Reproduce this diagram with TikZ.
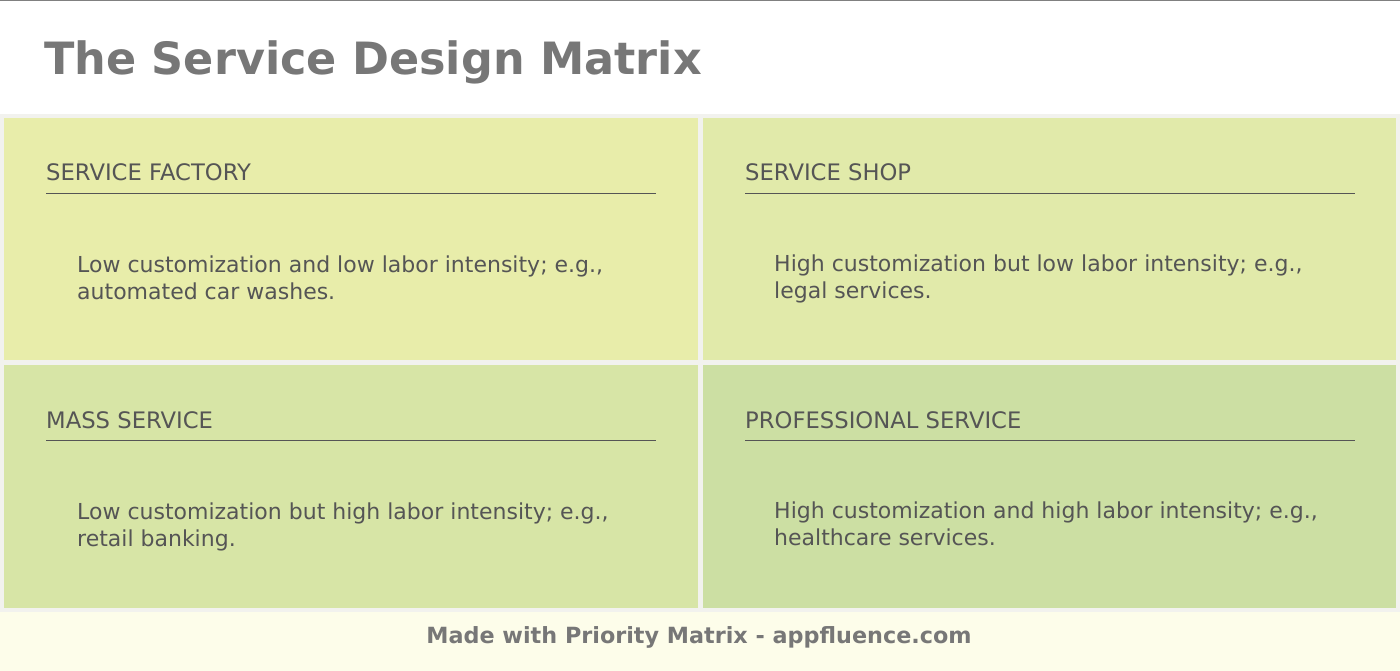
\documentclass[tikz,border=0pt]{standalone}
\usepackage{fontspec}
\setmainfont{DejaVu Sans}
\definecolor{tl}{HTML}{E8EDAA}
\definecolor{tr}{HTML}{E1EAAA}
\definecolor{bl}{HTML}{D7E5A6}
\definecolor{br}{HTML}{CCDFA3}
\definecolor{txt}{HTML}{555555}
\definecolor{ttl}{HTML}{777777}
\definecolor{foot}{HTML}{FDFDEA}
\definecolor{gap}{HTML}{F2F2EE}
\begin{document}
\begin{tikzpicture}[x=1pt,y=-1pt,
  quad/.style={inner sep=0pt,anchor=north west},
  head/.style={anchor=base west,inner sep=0pt,text=txt,font=\fontsize{22.7}{27}\selectfont},
  body/.style={anchor=north west,inner sep=0pt,text=txt,align=left,font=\fontsize{22}{27}\selectfont}]
\useasboundingbox (0,0) rectangle (1400,671);
\fill[white] (0,0) rectangle (1400,671);
\fill[gap] (0,114) rectangle (1400,612);
\fill[foot] (0,612) rectangle (1400,671);
\draw[gray,line width=1.5] (0,0.75) -- (1400,0.75);
\node[anchor=base west,inner sep=0pt,text=ttl,font=\bfseries\fontsize{44.5}{50}\selectfont] (title) at (44,75) {The Service Design Matrix};
\fill[tl] (4,118) rectangle (698,360);
\fill[tr] (703,118) rectangle (1396,360);
\fill[bl] (4,365) rectangle (698,608);
\fill[br] (703,365) rectangle (1396,608);
\node[head] (h1) at (46,181) {SERVICE FACTORY};
\node[head] (h2) at (745,181) {SERVICE SHOP};
\node[head] (h3) at (46,428) {MASS SERVICE};
\node[head] (h4) at (745,428) {PROFESSIONAL SERVICE};
\foreach \x/\y in {46/193,745/193,46/440,745/440}
  \draw[txt,line width=0.8] (\x,\y) -- (\x+610,\y);
\node[body] (b1) at (77,256) {Low customization and low labor intensity; e.g.,\\automated car washes.};
\node[body] (b2) at (774,255) {High customization but low labor intensity; e.g.,\\legal services.};
\node[body] (b3) at (77,503) {Low customization but high labor intensity; e.g.,\\retail banking.};
\node[body] (b4) at (774,502) {High customization and high labor intensity; e.g.,\\healthcare services.};
\node[text=ttl,font=\bfseries\fontsize{22.3}{26}\selectfont] (ft) at (699,637) {Made with Priority Matrix - appfluence.com};
\end{tikzpicture}
\end{document}
